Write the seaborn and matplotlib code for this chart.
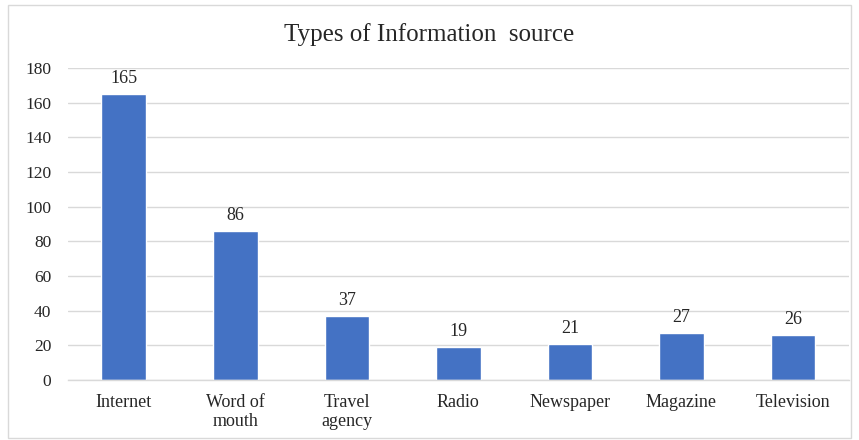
import matplotlib
matplotlib.use("Agg")
import matplotlib.pyplot as plt
import seaborn as sns
import pandas as pd
from matplotlib.patches import Rectangle

categories = ["Internet", "Word of\nmouth", "Travel\nagency", "Radio", "Newspaper", "Magazine", "Television"]
values = [165, 86, 37, 19, 21, 27, 26]
yticks = [0, 20, 40, 60, 80, 100, 120, 140, 160, 180]
title = "Types of Information  source"

sns.set_theme(style="white")
plt.rcParams['font.family'] = ['Liberation Serif', 'DejaVu Serif']

df = pd.DataFrame({"cat": categories, "val": values})

fig = plt.figure(figsize=(8.59, 4.40), dpi=100)
ax = fig.add_axes([0.0792, 0.1364, 0.9088, 0.7091])
sns.barplot(data=df, x="cat", y="val", color="#4472C4", width=0.4, saturation=1, ax=ax)

ax.set_ylim(0, 180)
ax.set_yticks(yticks)
ax.set_xlim(-0.5, len(categories) - 0.5)
ax.yaxis.grid(True, color="#d9d9d9", linewidth=1)
ax.set_axisbelow(True)
for s in ["top", "right", "left"]:
    ax.spines[s].set_visible(False)
ax.spines["bottom"].set_color("#d9d9d9")
ax.spines["bottom"].set_linewidth(1)
ax.tick_params(axis="y", length=0, labelsize=12.5, colors="#262626", pad=12)
ax.tick_params(axis="x", length=0, labelsize=13, colors="#262626", pad=10)
ax.set_xlabel("")
ax.set_ylabel("")

for c in ax.containers:
    ax.bar_label(c, labels=[str(v) for v in values], padding=5, fontsize=13, color="#262626")

fig.text(0.5, 0.922, title, ha="center", va="center", fontsize=18, color="#262626")
fig.patches.append(Rectangle((8/859, 2/440), 843/859, 433/440, transform=fig.transFigure,
                             fill=False, edgecolor="#d9d9d9", linewidth=1))

fig.savefig("out.png", dpi=100)
